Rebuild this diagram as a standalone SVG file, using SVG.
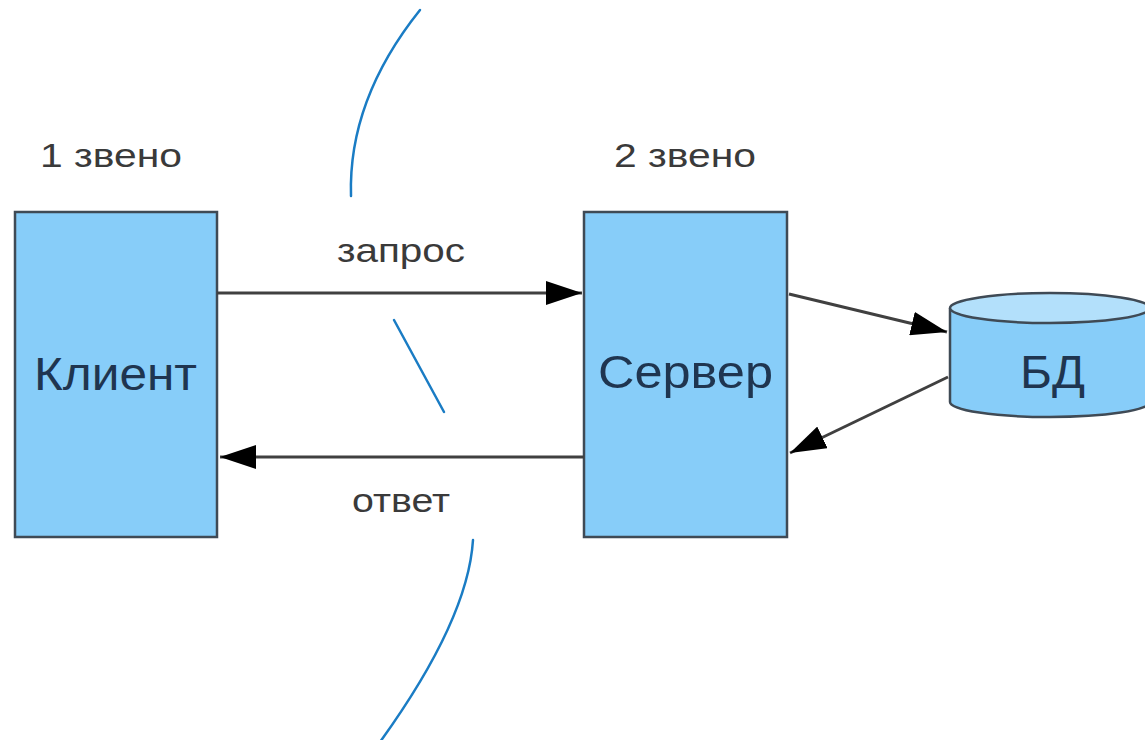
<svg xmlns="http://www.w3.org/2000/svg" width="1145" height="740" viewBox="0 0 1145 740">
<defs>
<style>
.box{fill:#87cdf9;stroke:#3f4a55;stroke-width:2.5}
.big{font-family:"Liberation Sans",Arial,sans-serif;font-size:46px;fill:#1f3550}
.lbl{font-family:"Liberation Sans",Arial,sans-serif;font-size:33px;fill:#3a3a3a}
.conn{stroke:#404040;stroke-width:3;fill:none}
.div{stroke:#1a7cc4;stroke-width:2.5;fill:none;stroke-linecap:round}
</style>
<marker id="ah" viewBox="0 0 12 8" refX="12" refY="4" markerWidth="12" markerHeight="8" markerUnits="userSpaceOnUse" orient="auto">
<path d="M0,0 L12,4 L0,8 Z" fill="#000"/>
</marker>
<marker id="ah2" viewBox="0 0 36 24" refX="36" refY="12" markerWidth="36" markerHeight="24" markerUnits="userSpaceOnUse" orient="auto">
<path d="M0,0 L36,12 L0,24 Z" fill="#000"/>
</marker>
</defs>
<rect width="1145" height="740" fill="#fff"/>

<g id="dividers">
<path class="div" d="M420,10 Q348,100 351,196"/>
<path class="div" d="M394,320 L444,412"/>
<path class="div" d="M473,540 Q468,620 380,742"/>
</g>

<g id="labels">
<text class="lbl" x="40" y="167" textLength="142" lengthAdjust="spacingAndGlyphs">1 звено</text>
<text class="lbl" x="614" y="167" textLength="142" lengthAdjust="spacingAndGlyphs">2 звено</text>
</g>

<g id="client">
<rect class="box" x="15" y="212" width="202" height="325"/>
<text class="big" x="34" y="390" textLength="163" lengthAdjust="spacingAndGlyphs">Клиент</text>
</g>

<g id="server">
<rect class="box" x="584" y="212" width="203" height="325"/>
<text class="big" x="598" y="388" textLength="175" lengthAdjust="spacingAndGlyphs">Сервер</text>
</g>

<g id="db">
<path d="M950,308 L950,402 A100,15 0 0 0 1150,402 L1150,308" fill="#87cdf9" stroke="#3f4a55" stroke-width="2.5"/>
<ellipse cx="1050" cy="308" rx="100" ry="15" fill="#b3e0fb" stroke="#3f4a55" stroke-width="2.5"/>
<text class="big" x="1020" y="388" textLength="65" lengthAdjust="spacingAndGlyphs">БД</text>
</g>

<g id="connectors">
<line class="conn" x1="217" y1="293" x2="582" y2="293" marker-end="url(#ah2)"/>
<line class="conn" x1="584" y1="457" x2="220" y2="457" marker-end="url(#ah2)"/>
<line class="conn" x1="789" y1="294" x2="947" y2="332" marker-end="url(#ah2)"/>
<line class="conn" x1="948" y1="377" x2="790" y2="453" marker-end="url(#ah2)"/>
<text class="lbl" x="337" y="262" textLength="128" lengthAdjust="spacingAndGlyphs">запрос</text>
<text class="lbl" x="352" y="512" textLength="98" lengthAdjust="spacingAndGlyphs">ответ</text>
</g>
</svg>
